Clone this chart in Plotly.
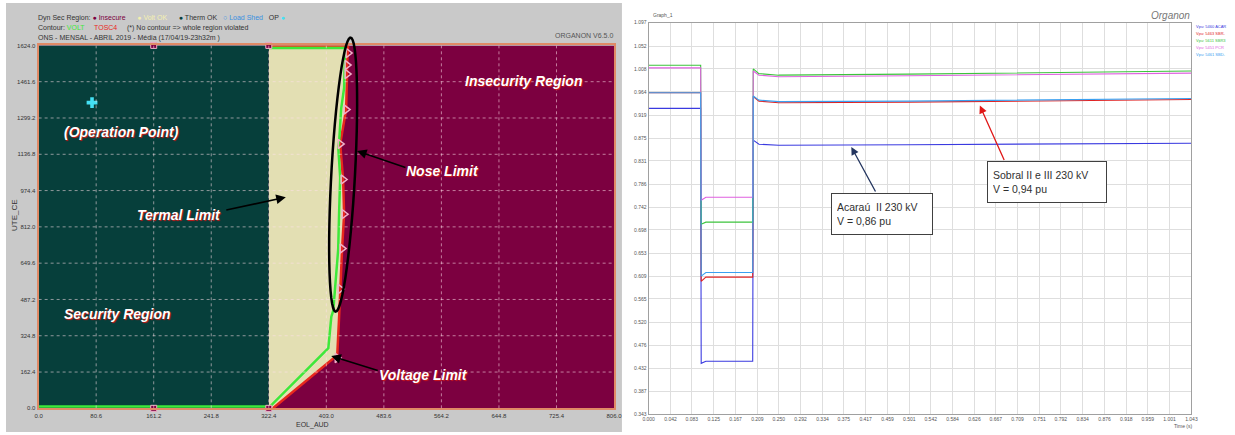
import numpy as np
import plotly.graph_objects as go

W, H = 1235, 435
def PX(x): return x / W
def PY(y): return 1 - y / H

# ---------------- Left chart (security region) data ----------------
left_x_ticks = [0.0, 80.6, 161.2, 241.8, 322.4, 403.0, 483.6, 564.2, 644.8, 725.4, 806.0]
left_y_ticks = [0.0, 162.4, 324.8, 487.2, 649.6, 812.0, 974.4, 1136.8, 1299.2, 1461.6, 1624.0]
therm_limit = 322.4
# red contour (secure / insecure boundary), bottom -> top
red_x = [328.2, 418.3, 421.0, 422.4, 425.1, 427.9, 426.5, 422.4, 430.7, 432.1, 432.1, 433.5]
red_y = [0.0, 238.0, 415.0, 534.0, 715.0, 869.0, 1024.0, 1183.0, 1337.0, 1496.0, 1536.0, 1624.0]
# green contour (voltage), bottom -> top
green_x = [0.0, 324.0, 405.8, 410.0, 412.7, 415.5, 419.6, 421.0, 422.4, 419.6, 421.0, 423.8, 427.9, 429.3, 322.4]
green_y = [8.0, 8.0, 269.0, 410.0, 437.0, 547.0, 710.0, 887.0, 1033.0, 1174.0, 1196.0, 1341.0, 1434.0, 1612.0, 1612.0]
# nose points (triangles)
nose_x = [433.5, 432.1, 432.1, 430.7, 422.4, 426.5, 427.9, 425.1, 422.4, 418.3]
nose_y = [1590.0, 1536.0, 1496.0, 1337.0, 1183.0, 1024.0, 869.0, 715.0, 534.0, 225.0]
op_x, op_y = [74.8], [1368.0]

# ---------------- Right chart (voltage time series) data ----------------
time_s = [0.000, 0.100, 0.101, 0.110, 0.200, 0.201, 0.212, 0.250, 0.500, 0.800, 1.043]
v_acarau = [0.932, 0.932, 0.441, 0.445, 0.445, 0.871, 0.863, 0.861, 0.862, 0.864, 0.865]
v_red    = [0.962, 0.962, 0.599, 0.607, 0.607, 0.955, 0.946, 0.943, 0.944, 0.947, 0.949]
v_green  = [1.015, 1.015, 0.709, 0.713, 0.713, 1.008, 0.999, 0.996, 0.998, 1.001, 1.004]
v_magenta= [1.010, 1.010, 0.755, 0.761, 0.761, 1.004, 0.996, 0.993, 0.995, 0.998, 1.000]
v_lblue  = [0.962, 0.962, 0.609, 0.616, 0.616, 0.956, 0.948, 0.945, 0.946, 0.949, 0.951]
series_names = ["Vpu: 5460 ACAR", "Vpu: 5463 SBR-", "Vpu: 5611 SBR3", "Vpu: 5451 PCR", "Vpu: 5461 SBD-"]
series_colors = ["#3a3ae0", "#e02424", "#3cc43c", "#e060e0", "#3aa0f0"]
right_x_ticks = [0.000, 0.042, 0.083, 0.125, 0.167, 0.209, 0.250, 0.292, 0.334, 0.375, 0.417, 0.459,
                 0.501, 0.542, 0.584, 0.626, 0.667, 0.709, 0.751, 0.792, 0.834, 0.876, 0.918, 0.959,
                 1.001, 1.043]
right_y_ticks = [0.343, 0.387, 0.432, 0.476, 0.520, 0.565, 0.609, 0.653, 0.698, 0.742, 0.786, 0.831,
                 0.875, 0.919, 0.964, 1.008, 1.052, 1.097]

fig = go.Figure()

# left region fills
XMAX, YMAX = left_x_ticks[-1], left_y_ticks[-1]
fig.add_trace(go.Scatter(x=[0, XMAX, XMAX, 0, 0], y=[0, 0, YMAX, YMAX, 0], fill="toself",
                         fillcolor="#7c0040", line=dict(width=0), mode="lines", hoverinfo="skip",
                         xaxis="x", yaxis="y", showlegend=False))
fig.add_trace(go.Scatter(x=[therm_limit] + red_x + [therm_limit, therm_limit],
                         y=[0] + red_y + [YMAX, 0], fill="toself",
                         fillcolor="#e3dfb3", line=dict(width=0), mode="lines", hoverinfo="skip",
                         xaxis="x", yaxis="y", showlegend=False))
fig.add_trace(go.Scatter(x=[0, therm_limit, therm_limit, 0, 0], y=[0, 0, YMAX, YMAX, 0], fill="toself",
                         fillcolor="#063f3b", line=dict(width=0), mode="lines", hoverinfo="skip",
                         xaxis="x", yaxis="y", showlegend=False))
# contours
fig.add_trace(go.Scatter(x=red_x, y=red_y, mode="lines", line=dict(color="#e8281e", width=2.5),
                         xaxis="x", yaxis="y", showlegend=False, hoverinfo="skip"))
fig.add_trace(go.Scatter(x=[therm_limit, red_x[-1]], y=[YMAX, YMAX], mode="lines",
                         line=dict(color="#e8401e", width=3),
                         xaxis="x", yaxis="y", showlegend=False, hoverinfo="skip"))
fig.add_trace(go.Scatter(x=green_x, y=green_y, mode="lines", line=dict(color="#3ee83a", width=2.5),
                         xaxis="x", yaxis="y", showlegend=False, hoverinfo="skip"))
fig.add_trace(go.Scatter(x=nose_x, y=nose_y, mode="markers",
                         marker=dict(symbol="triangle-right-open", size=8, color="#f0b0c8", line=dict(width=1.5)),
                         xaxis="x", yaxis="y", showlegend=False, hoverinfo="skip"))
fig.add_trace(go.Scatter(x=[161.2, therm_limit, therm_limit, 161.2], y=[0, 0, YMAX, YMAX], mode="markers",
                         marker=dict(symbol="square", size=6, color="#7c0040", line=dict(color="#f0b0c8", width=1)),
                         xaxis="x", yaxis="y", showlegend=False, hoverinfo="skip", cliponaxis=False))
fig.add_trace(go.Scatter(x=op_x, y=op_y, mode="markers",
                         marker=dict(symbol="cross", size=9, color="#44e0f4"),
                         xaxis="x", yaxis="y", showlegend=False, hoverinfo="skip"))

# right series
for yv, nm, col in zip([v_acarau, v_red, v_green, v_magenta, v_lblue], series_names, series_colors):
    fig.add_trace(go.Scatter(x=time_s, y=yv, mode="lines", line=dict(color=col, width=1.1),
                             name=nm, xaxis="x2", yaxis="y2", showlegend=False, hoverinfo="skip"))

shapes = []
# gray backdrop of the left panel
shapes.append(dict(type="rect", xref="paper", yref="paper", x0=0, x1=PX(623), y0=0, y1=1,
                   fillcolor="#c9c9c9", line=dict(width=0), layer="below"))
# dotted grid over left regions
for xv in left_x_ticks[1:-1]:
    shapes.append(dict(type="line", xref="x", yref="y", x0=xv, x1=xv, y0=0, y1=YMAX,
                       line=dict(color="rgba(255,225,235,0.55)", width=1, dash="dot"), layer="above"))
for yv in left_y_ticks[1:-1]:
    shapes.append(dict(type="line", xref="x", yref="y", x0=0, x1=XMAX, y0=yv, y1=yv,
                       line=dict(color="rgba(255,225,235,0.55)", width=1, dash="dot"), layer="above"))
# ellipse around nose limit (sheared)
tt = np.linspace(0, 2 * np.pi, 60)
ex = 341 + 12 * np.cos(tt) + 7.5 * np.sin(tt)
ey = 174 - 139 * np.sin(tt)
path = "M " + " L ".join(f"{PX(a):.5f},{PY(b):.5f}" for a, b in zip(ex, ey)) + " Z"
shapes.append(dict(type="path", xref="paper", yref="paper", path=path,
                   line=dict(color="black", width=2.5), layer="above"))

ann = []
def lab(text, x, y, size=14):
    ann.append(dict(text=f"<b><i>{text}</i></b>", xref="paper", yref="paper", x=PX(x), y=PY(y),
                    showarrow=False, xanchor="center", yanchor="middle",
                    font=dict(family="Liberation Sans, Arial", size=size, color="white",
                              shadow="1px 1px 1px #d01818")))
lab("Insecurity Region", 523, 79)
lab("(Operation Point)", 117, 131)
lab("Nose Limit", 441, 170)
lab("Termal Limit", 175, 215)
lab("Security Region", 113, 315)
lab("Voltage Limit", 422, 377)

def arrow(x, y, tx, ty, color="black", width=1.6):
    ann.append(dict(text="", xref="paper", yref="paper", x=PX(x), y=PY(y), ax=tx - x, ay=ty - y,
                    showarrow=True, arrowhead=2, arrowsize=1.2, arrowwidth=width, arrowcolor=color))
arrow(283, 197, 222, 210)
arrow(355, 150, 405, 167)
arrow(329, 358, 377, 373)
arrow(855, 146, 880, 192, color="#23355f", width=1.3)
arrow(985, 104, 1010, 160, color="#e01818", width=1.3)

def small(text, x, y, size=7, color="#333", xanchor="left", angle=0, family="Liberation Sans, Arial"):
    ann.append(dict(text=text, xref="paper", yref="paper", x=PX(x), y=PY(y), showarrow=False,
                    xanchor=xanchor, yanchor="middle", textangle=angle,
                    font=dict(family=family, size=size, color=color)))

small("Dyn Sec Region: <span style='color:#7c0040'>●</span> <span style='color:#7c0040'>Insecure</span>"
      "      <span style='color:#f4f0b0'>● Volt OK</span>      <span style='color:#063f3b'>●</span> Therm OK"
      "   <span style='color:#3a90e0'>○ Load Shed</span>   OP <span style='color:#44e0f4'>●</span>", 30, 15)
small("Contour: <span style='color:#3ee83a'>VOLT</span>     <span style='color:#e8281e'>TOSC4</span>"
      "     (*) No contour => whole region violated", 30, 25)
small("ONS - MENSAL - ABRIL 2019 - Média (17/04/19-23h32m )", 30, 35)
small("ORGANON V6.5.0", 585, 33, size=7, color="#555", xanchor="center")
small("UTE_CE", 8, 215, size=8, color="#333", xanchor="center", angle=-90)
small("EOL_AUD", 310, 428, size=7, color="#333", xanchor="center")

small("Graph_1", 652, 12, size=5, color="#555")
small("<i>Organon</i>", 1178, 13, size=10, color="#777", xanchor="center")
small("Time (s)", 1190, 429, size=5, color="#555", xanchor="center")
for i, (nm, col) in enumerate(zip(series_names, series_colors)):
    small(nm, 1202, 24 + i * 7, size=4, color=col)

ann.append(dict(text="Acaraú  II 230 kV<br>V = 0,86 pu", xref="paper", yref="paper", x=PX(834), y=PY(193),
                xanchor="left", yanchor="top", align="left", showarrow=False,
                bordercolor="#404040", borderwidth=1, borderpad=5, bgcolor="white", width=90, height=30,
                font=dict(family="Liberation Sans, Arial", size=10.5, color="#303030")))
ann.append(dict(text="Sobral II e III 230 kV<br>V = 0,94 pu", xref="paper", yref="paper", x=PX(992), y=PY(160),
                xanchor="left", yanchor="top", align="left", showarrow=False,
                bordercolor="#404040", borderwidth=1, borderpad=5, bgcolor="white", width=108, height=30,
                font=dict(family="Liberation Sans, Arial", size=10.5, color="#303030")))

tickfont = dict(family="Liberation Sans, Arial", size=6, color="#333")
fig.update_layout(
    width=W, height=H, margin=dict(l=0, r=0, t=0, b=0),
    paper_bgcolor="white", plot_bgcolor="rgba(0,0,0,0)",
    shapes=shapes, annotations=ann, showlegend=False,
    xaxis=dict(domain=[PX(33), PX(615)], range=[0, XMAX], tickvals=left_x_ticks,
               ticktext=[f"{v:.1f}" for v in left_x_ticks], showgrid=False, zeroline=False,
               showline=True, mirror=True, linecolor="#e08a66", linewidth=2, ticks="",
               tickfont=tickfont, anchor="y"),
    yaxis=dict(domain=[PY(411), PY(43)], range=[0, YMAX], tickvals=left_y_ticks,
               ticktext=[f"{v:.1f}" for v in left_y_ticks], showgrid=False, zeroline=False,
               showline=True, mirror=True, linecolor="#e08a66", linewidth=2, ticks="",
               tickfont=tickfont, anchor="x"),
    xaxis2=dict(domain=[PX(650), PX(1199)], range=[0, right_x_ticks[-1]], tickvals=right_x_ticks,
                ticktext=[f"{v:.3f}" for v in right_x_ticks], showgrid=True, gridcolor="#dedede",
                zeroline=False, showline=True, mirror=True, linecolor="#a0a0a0", linewidth=1,
                tickfont=dict(family="Liberation Sans, Arial", size=5, color="#555"), anchor="y2"),
    yaxis2=dict(domain=[PY(417), PY(20)], range=[right_y_ticks[0], right_y_ticks[-1]], tickvals=right_y_ticks,
                ticktext=[f"{v:.3f}" for v in right_y_ticks], showgrid=True, gridcolor="#dedede",
                zeroline=False, showline=True, mirror=True, linecolor="#a0a0a0", linewidth=1,
                tickfont=dict(family="Liberation Sans, Arial", size=5, color="#555"), anchor="x2"),
)
fig.write_html("out.html", config={"displayModeBar": False},
               post_script="document.body.style.margin='0px';document.body.style.overflow='hidden';")
